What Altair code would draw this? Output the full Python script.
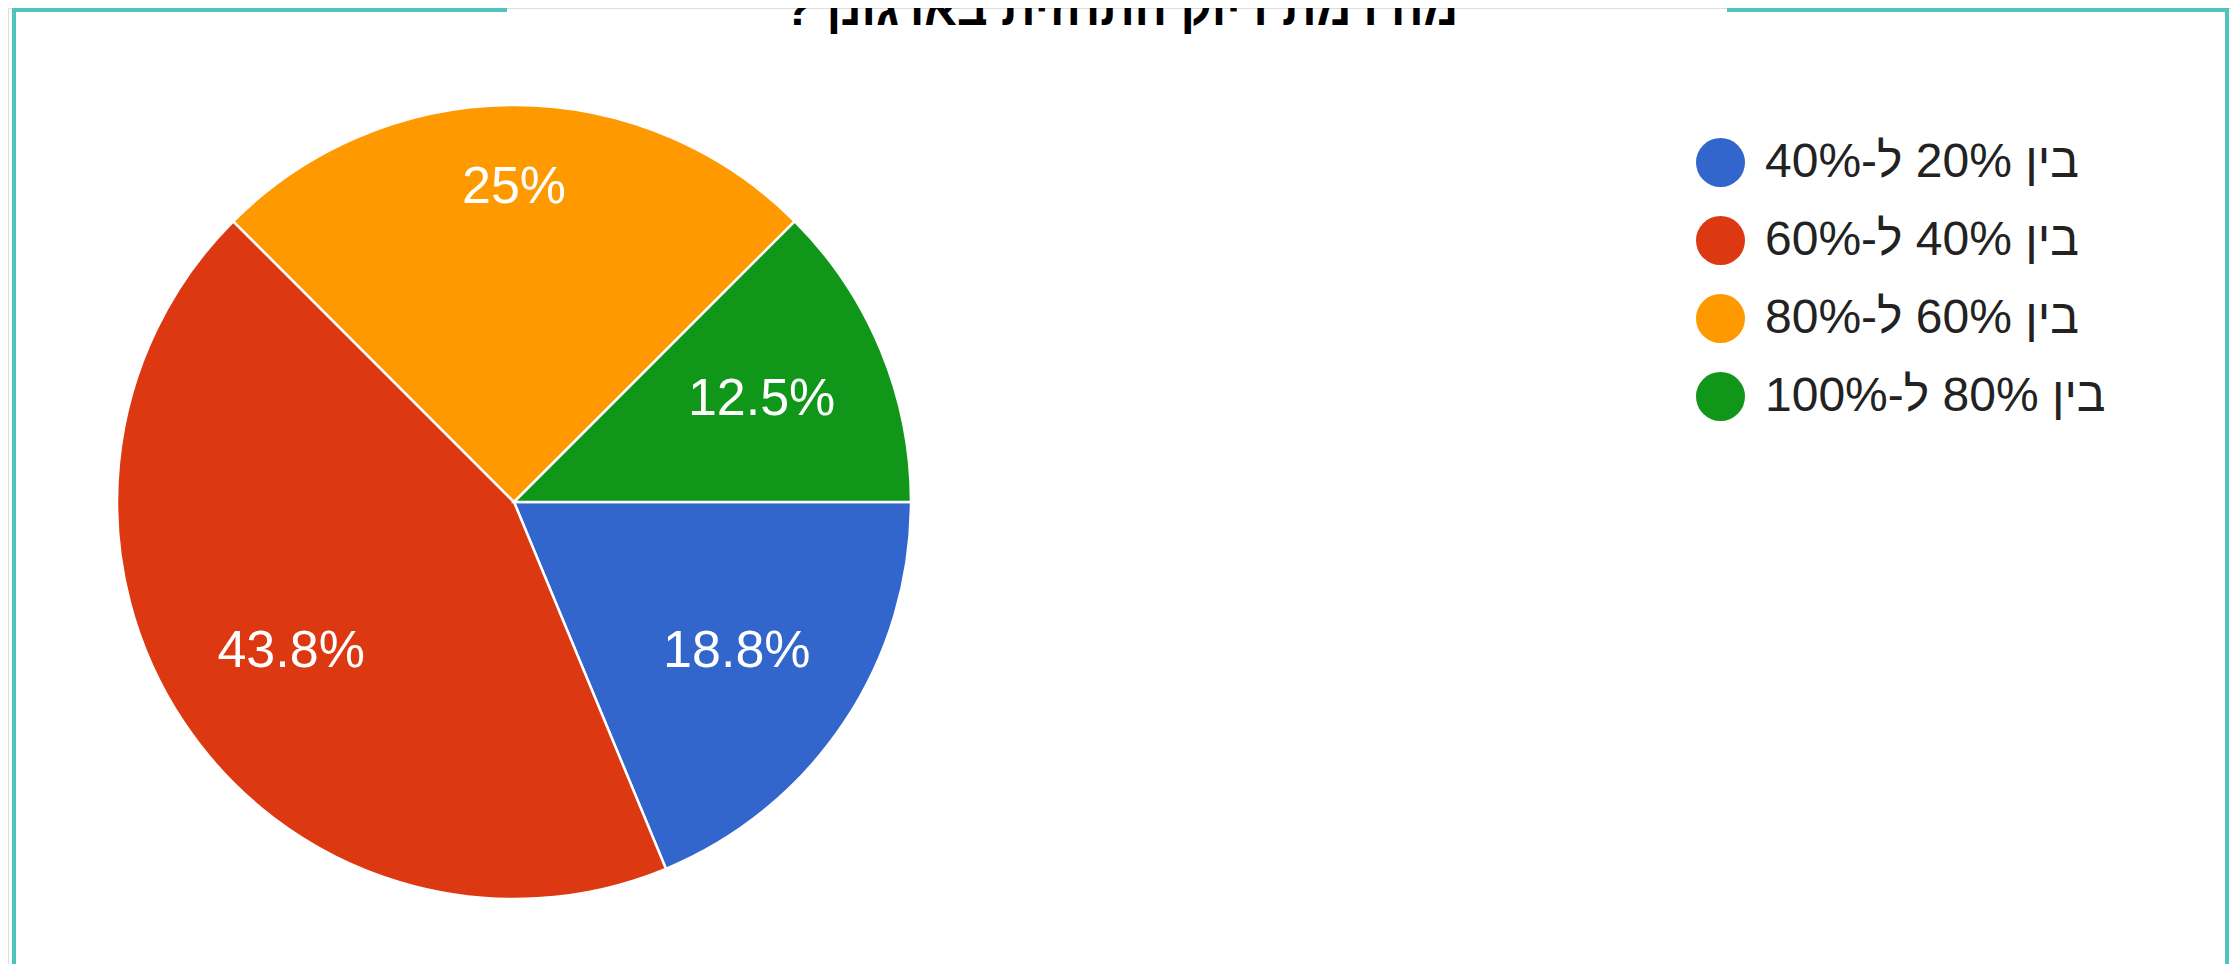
import math
import altair as alt
import pandas as pd

# ---- data ----
categories = ["בין 20% ל-40%", "בין 40% ל-60%", "בין 60% ל-80%", "בין 80% ל-100%"]
counts = [3, 7, 4, 2]
labels = ["18.8%", "43.8%", "25%", "12.5%"]
colors = ["#3366cc", "#dc3912", "#ff9900", "#109618"]
# trailing RLM keeps the question mark on the left, as in right-to-left text
title_text = ["מה רמת דיוק התחזית בארגונך?\u200f"]

df = pd.DataFrame({"category": categories, "count": counts, "label": labels,
                   "order": list(range(len(categories)))})

W, H = 2223, 956
CX, CY, R = 506, 494, 397
TEAL = "#4fc4bd"

theta = alt.Theta("count:Q", stack=True,
                  scale=alt.Scale(range=[math.pi / 2, math.pi / 2 + 2 * math.pi]))
base = alt.Chart(df).encode(theta=theta, order=alt.Order("order:Q", sort="ascending"))

pie = base.mark_arc(radius=R, stroke="white", strokeWidth=2.5).encode(
    x=alt.value(CX), y=alt.value(CY),
    color=alt.Color(
        "category:N",
        sort=categories,
        scale=alt.Scale(domain=categories, range=colors),
        legend=alt.Legend(
            title=None, orient="none", legendX=1688, legendY=130, padding=0,
            symbolType="circle", symbolSize=2401, symbolStrokeWidth=0,
            labelFontSize=48, labelFont="Arial", labelColor="#222222",
            labelOffset=20, labelLimit=2000, rowPadding=29,
        ),
    ),
)

slice_text = base.mark_text(
    font="Arial", fontSize=52, color="white", align="center", baseline="middle",
    radius=alt.expr("datum.label == '25%' ? 315 : 268"),
).encode(x=alt.value(CX), y=alt.value(CY), text="label:N")

title = alt.Chart(pd.DataFrame({"t": title_text})).mark_text(
    font="Arial", fontSize=48, fontWeight="bold", color="#000000",
    align="center", baseline="alphabetic",
).encode(x=alt.value(1113), y=alt.value(17), text="t:N")

one = pd.DataFrame({"k": [0]})
def rect(x1, x2, y1, y2):
    return alt.Chart(one).mark_rect(color=TEAL).encode(
        x=alt.value(x1), x2=alt.value(x2), y=alt.value(y1), y2=alt.value(y2))

frame = [rect(4, 8, 0, H), rect(2217, 2221, 0, H), rect(4, 499, 0, 4), rect(1719, 2221, 0, 4)]

chart = alt.layer(*frame, pie, slice_text, title).properties(
    width=W, height=H, autosize="none", padding=0,
).configure_view(stroke=None).configure(background="white")

chart.save("out.html", embed_options={"renderer": "svg", "actions": False})
